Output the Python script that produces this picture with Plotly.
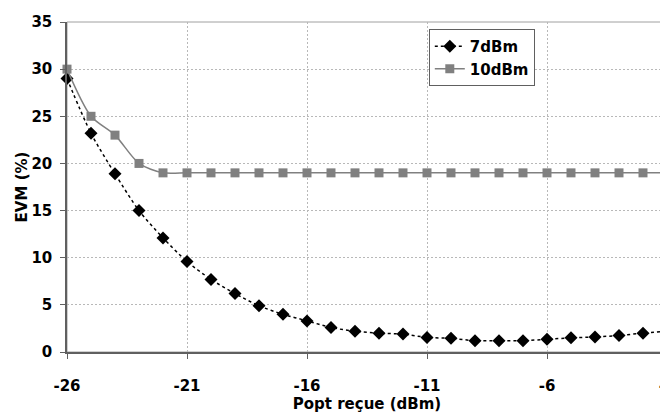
import plotly.graph_objects as go

x_dbm = [-26, -25, -24, -23, -22, -21, -20, -19, -18, -17, -16, -15, -14,
         -13, -12, -11, -10, -9, -8, -7, -6, -5, -4, -3, -2, -1]
evm_7dbm = [29.0, 23.2, 18.9, 15.0, 12.1, 9.6, 7.7, 6.2, 4.9, 4.0, 3.3, 2.6, 2.2,
            2.0, 1.9, 1.55, 1.45, 1.2, 1.2, 1.2, 1.35, 1.5, 1.6, 1.75, 2.0, 2.2]
evm_10dbm = [30.0, 25.0, 23.0, 20.0, 19.0, 19.0, 19.0, 19.0, 19.0, 19.0, 19.0, 19.0, 19.0,
             19.0, 19.0, 19.0, 19.0, 19.0, 19.0, 19.0, 19.0, 19.0, 19.0, 19.0, 19.0, 19.0]
x_ticks = [-26, -21, -16, -11, -6, -1]
y_ticks = [0, 5, 10, 15, 20, 25, 30, 35]

FONT = "DejaVu Sans"

fig = go.Figure()
fig.add_trace(go.Scatter(
    x=x_dbm, y=evm_7dbm, name="7dBm", mode="lines+markers",
    line=dict(color="black", width=1.5, dash="dot", shape="spline", smoothing=0.8),
    marker=dict(symbol="diamond", size=10, color="black"),
    cliponaxis=False,
))
fig.add_trace(go.Scatter(
    x=x_dbm, y=evm_10dbm, name="10dBm", mode="lines+markers",
    line=dict(color="#808080", width=1.5, shape="spline", smoothing=0.8),
    marker=dict(symbol="square", size=9, color="#808080"),
    cliponaxis=False,
))

fig.add_shape(type="rect", xref="paper", yref="paper", x0=0, y0=0, x1=1, y1=1,
              line=dict(color="#a0a0a0", width=1), layer="below")

# page body has an 8px margin, so the figure is sized/offset to compensate
fig.update_layout(
    width=660, height=407,
    margin=dict(l=59, r=1, t=14, b=63, autoexpand=False),
    plot_bgcolor="white", paper_bgcolor="white",
    font=dict(family=FONT, size=15, color="black"),
    showlegend=True,
    legend=dict(
        x=0.603, y=0.979, xanchor="left", yanchor="top",
        bordercolor="#606060", borderwidth=1, bgcolor="white",
        font=dict(family=FONT, size=15, color="black", weight="bold"),
        tracegroupgap=0, itemwidth=30,
    ),
    xaxis=dict(
        range=[-26, -1], tickvals=x_ticks, ticktext=[str(v) for v in x_ticks],
        showgrid=True, gridcolor="#b8b8b8", griddash="2px,2px", gridwidth=1,
        showline=True, linecolor="#606060", linewidth=1.5,
        ticks="outside", ticklen=5, tickcolor="#606060",
        tickfont=dict(family=FONT, size=15, weight="bold"),
        ticklabelstandoff=14, ticklabeloverflow="allow",
        zeroline=False, automargin=False,
        title=dict(text="Popt reçue (dBm)", font=dict(family=FONT, size=15, weight="bold"), standoff=0),
    ),
    yaxis=dict(
        range=[0, 35], tickvals=y_ticks,
        showgrid=True, gridcolor="#b8b8b8", griddash="2px,2px", gridwidth=1,
        showline=True, linecolor="#606060", linewidth=1.5,
        ticks="outside", ticklen=5, tickcolor="#606060",
        tickfont=dict(family=FONT, size=15, weight="bold"),
        ticklabelstandoff=5, ticklabeloverflow="allow",
        zeroline=False, automargin=False,
        title=dict(text="EVM (%)", font=dict(family=FONT, size=15, weight="bold"), standoff=0),
    ),
)

fig.write_html("out.html")
